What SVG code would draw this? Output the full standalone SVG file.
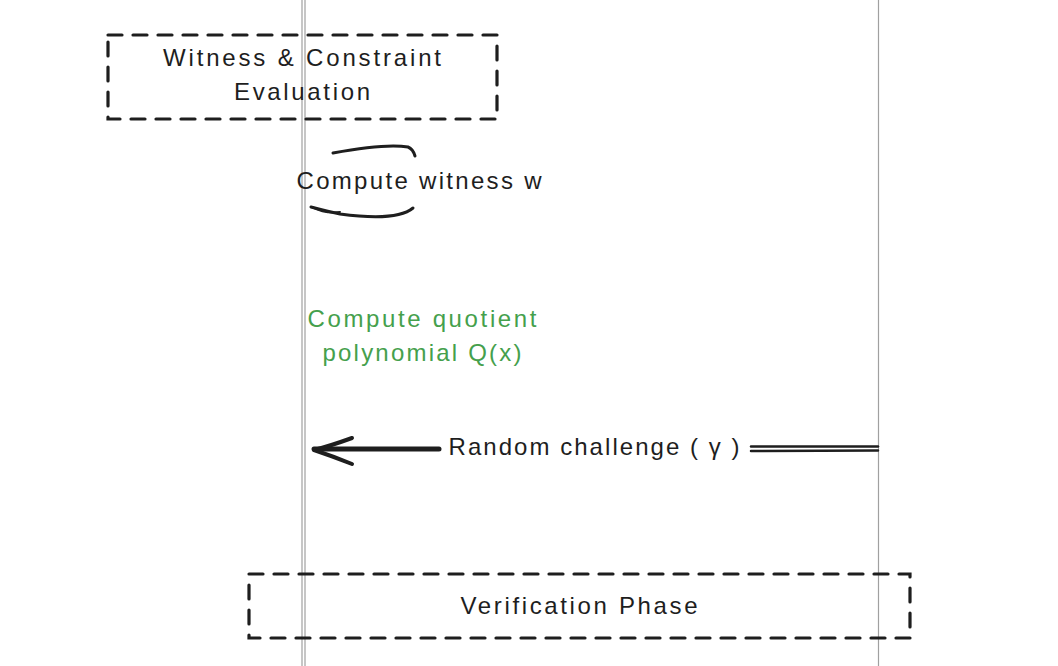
<svg xmlns="http://www.w3.org/2000/svg" width="1058" height="666" viewBox="0 0 1058 666">
<style>
.t{font-family:"Liberation Sans","DejaVu Sans",sans-serif;font-size:24px;fill:#1e1e1e;text-anchor:middle}
.g{fill:#45a04c}
.life{stroke:#a0a0a0;stroke-width:1.2;fill:none}
.box{fill:none;stroke:#1e1e1e;stroke-width:3.2;stroke-dasharray:14 11;stroke-linecap:round}
.ln{fill:none;stroke:#1e1e1e;stroke-linecap:round;stroke-linejoin:round}
</style>
<rect width="1058" height="666" fill="#ffffff"/>
<g id="lifelines">
<line class="life" x1="302" y1="0" x2="302" y2="666"/>
<line class="life" x1="305" y1="0" x2="305" y2="666"/>
<line class="life" x1="878.5" y1="0" x2="878.5" y2="666"/>
</g>
<g id="witness-box">
<rect class="box" x="108" y="35" width="389" height="84"/>
<text class="t" x="302" y="66" textLength="278" lengthAdjust="spacing">Witness &amp; Constraint</text>
<text class="t" x="302" y="100" textLength="136" lengthAdjust="spacing">Evaluation</text>
</g>
<g id="connectors">
<path class="ln" stroke-width="3" d="M333,153 C360,148 390,144 408,147 Q413,149 415,156"/>
<path class="ln" stroke-width="3" d="M311,207 Q330,212 340,214 C370,218 400,219 413,208"/>
<path class="ln" stroke-width="2" d="M340,212 Q325,214 312,207"/>
<path class="ln" stroke-width="5" d="M439,449 L314,449"/>
<path class="ln" stroke-width="4" d="M352,438 Q330,446 314,450 Q332,456 352,464"/>
<path class="ln" stroke-width="2.5" d="M751,446.5 L878,446.5"/>
<path class="ln" stroke-width="2.5" d="M751,451 L878,450.5"/>
</g>
<g id="self-message">
<text class="t" x="419" y="189" textLength="245" lengthAdjust="spacing">Compute witness w</text>
</g>
<g id="quotient-note">
<text class="t g" x="422" y="327" textLength="229" lengthAdjust="spacing">Compute quotient</text>
<text class="t g" x="422" y="361" textLength="199" lengthAdjust="spacing">polynomial Q(x)</text>
</g>
<g id="challenge-label">
<text class="t" x="594" y="455" textLength="291" lengthAdjust="spacing">Random challenge ( γ )</text>
</g>
<g id="verification-box">
<rect class="box" x="249" y="574" width="661" height="64"/>
<text class="t" x="579" y="614" textLength="237" lengthAdjust="spacing">Verification Phase</text>
</g>
</svg>
